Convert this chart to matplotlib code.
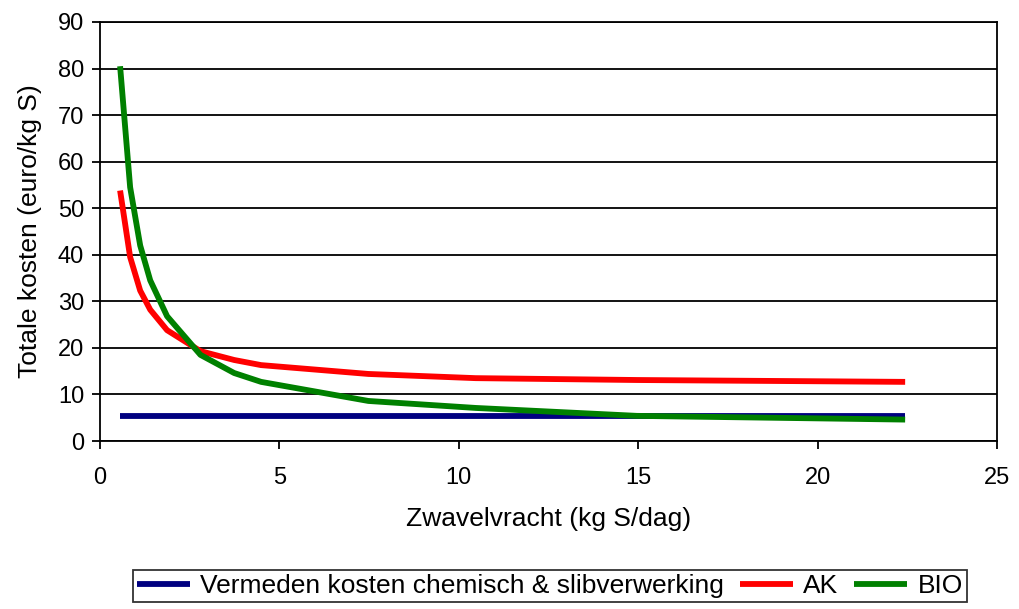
import matplotlib
matplotlib.use("Agg")
import matplotlib.pyplot as plt

plt.rcParams['font.family'] = ['Liberation Sans', 'DejaVu Sans']

x = [0.56, 0.84, 1.12, 1.40, 1.87, 2.80, 3.74, 4.49, 7.48, 10.47, 14.96, 22.44]
vermeden = [5.3] * len(x)
ak = [53.8, 39.5, 32.3, 28.2, 23.8, 19.3, 17.4, 16.3, 14.4, 13.5, 13.1, 12.7]
bio = [80.5, 54.5, 42.0, 34.5, 26.8, 18.5, 14.6, 12.7, 8.6, 7.1, 5.4, 4.6]

fig = plt.figure(figsize=(10.19, 6.09), dpi=100)
ax = fig.add_axes([100/1019, 1-441/609, 897/1019, 419/609])

ax.plot(x, vermeden, color='#000080', lw=4.2, label='Vermeden kosten chemisch & slibverwerking', solid_capstyle='butt')
ax.plot(x, ak, color='#ff0000', lw=4.2, label='AK', solid_capstyle='butt')
ax.plot(x, bio, color='#008000', lw=4.2, label='BIO', solid_capstyle='butt')

ax.set_xlim(0, 25)
ax.set_ylim(0, 90)
ax.set_xticks(range(0, 26, 5))
ax.set_yticks(range(0, 91, 10))
ax.yaxis.grid(True, color='black', lw=1.3)
ax.set_axisbelow(True)
for s in ax.spines.values():
    s.set_color('black')
    s.set_linewidth(1.3)
ax.tick_params(direction='out', length=5.5, width=1.3, labelsize=17, colors='black')
ax.tick_params(axis='x', pad=13)
ax.tick_params(axis='y', pad=6)
ax.set_xlabel('Zwavelvracht (kg S/dag)', fontsize=19, labelpad=13)
ax.set_ylabel('Totale kosten (euro/kg S)', fontsize=19, labelpad=11)

leg = fig.legend(loc='center', bbox_to_anchor=(550/1019, 1-586/609), ncol=3, fontsize=19,
                 frameon=True, fancybox=False, edgecolor='black', handlelength=2.0,
                 columnspacing=0.6, handletextpad=0.4, borderpad=0.15)
leg.get_frame().set_linewidth(1.3)

fig.savefig('out.png', dpi=100)
